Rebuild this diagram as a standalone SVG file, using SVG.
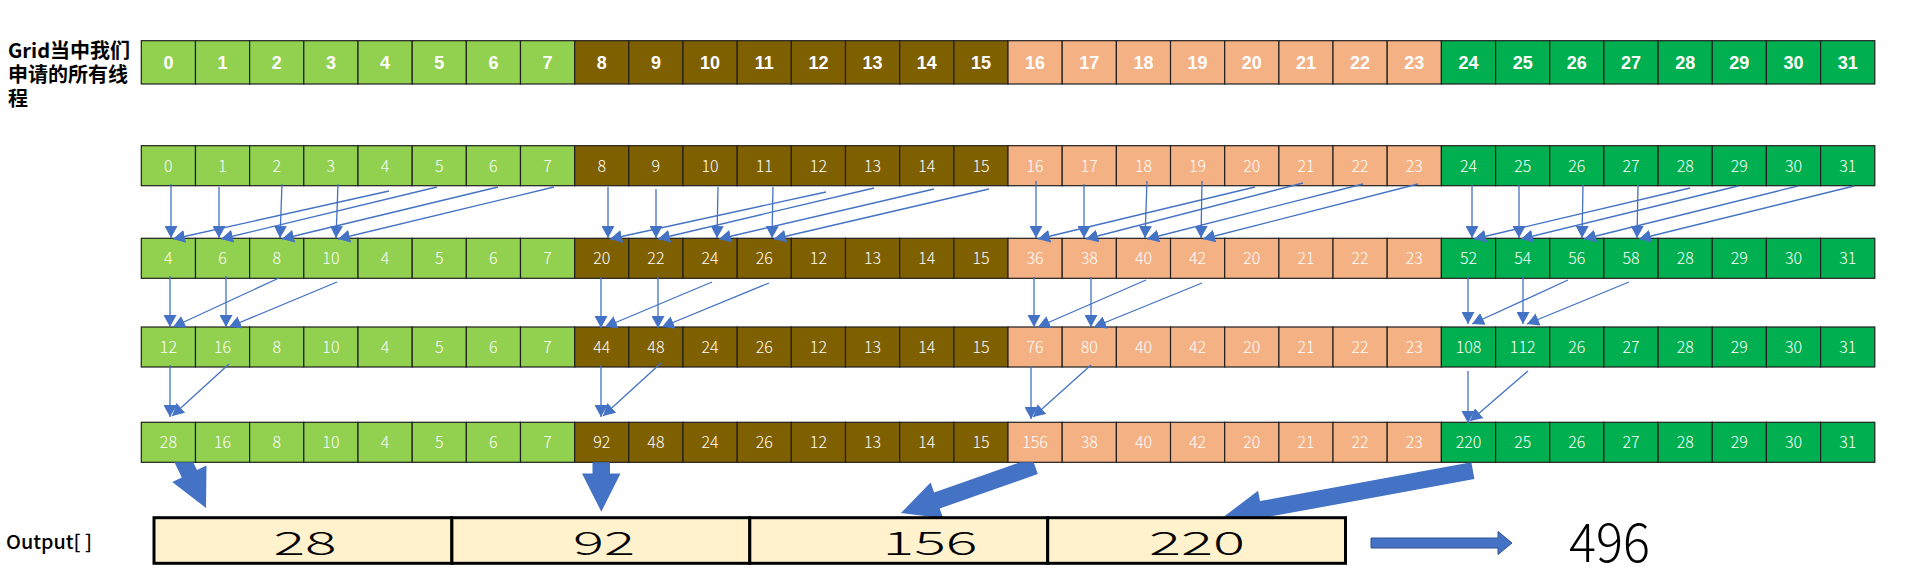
<svg xmlns="http://www.w3.org/2000/svg" width="1906" height="569" viewBox="0 0 1906 569">
<style>
.cell rect{stroke:#1f1f1f;stroke-width:1.2}
.f1{fill:#92D050}.f2{fill:#7F6000}.f3{fill:#F4B183}.f4{fill:#00B050}
.t1{font-family:"Liberation Sans",Arial,sans-serif;font-weight:bold;font-size:18px;fill:#fff;text-anchor:middle}
.t2{font-family:"Noto Sans CJK SC","Liberation Sans",sans-serif;font-weight:300;font-size:16px;fill:#fff;text-anchor:middle}
.lab{font-family:"Noto Sans CJK SC",sans-serif;font-weight:bold;font-size:20px;fill:#000}
.ln{stroke:#4472C4;stroke-width:1.3;fill:none;marker-end:url(#ah)}
.blk{fill:#4472C4}
.oc rect{fill:#FFF2CC;stroke:#000;stroke-width:3}
.on{font-family:"Noto Sans CJK SC","Liberation Sans",sans-serif;font-weight:300;font-size:33px;fill:#000;text-anchor:middle}
</style>
<defs>
<marker id="ah" markerUnits="userSpaceOnUse" markerWidth="13" markerHeight="13" refX="12" refY="6.5" orient="auto" viewBox="0 0 13 13"><path d="M0,0 L12,6.5 L0,13 z" fill="#4472C4"/></marker>
<clipPath id="band"><rect x="0" y="462.3" width="1906" height="55.4"/></clipPath>
</defs>
<g id="label-grid">
<text class="lab" x="8" y="58">Grid当中我们</text>
<text class="lab" x="8" y="82">申请的所有线</text>
<text class="lab" x="8" y="106">程</text>
</g>
<g id="row1" transform="translate(0,40.7)">
<g id="r1c0" class="cell" transform="translate(141.3)"><rect class="f1" width="54.2" height="43.3"/><text class="t1" x="27.1" y="28.6">0</text></g>
<g id="r1c1" class="cell" transform="translate(195.5)"><rect class="f1" width="54.2" height="43.3"/><text class="t1" x="27.1" y="28.6">1</text></g>
<g id="r1c2" class="cell" transform="translate(249.6)"><rect class="f1" width="54.2" height="43.3"/><text class="t1" x="27.1" y="28.6">2</text></g>
<g id="r1c3" class="cell" transform="translate(303.8)"><rect class="f1" width="54.2" height="43.3"/><text class="t1" x="27.1" y="28.6">3</text></g>
<g id="r1c4" class="cell" transform="translate(358)"><rect class="f1" width="54.2" height="43.3"/><text class="t1" x="27.1" y="28.6">4</text></g>
<g id="r1c5" class="cell" transform="translate(412.2)"><rect class="f1" width="54.2" height="43.3"/><text class="t1" x="27.1" y="28.6">5</text></g>
<g id="r1c6" class="cell" transform="translate(466.3)"><rect class="f1" width="54.2" height="43.3"/><text class="t1" x="27.1" y="28.6">6</text></g>
<g id="r1c7" class="cell" transform="translate(520.5)"><rect class="f1" width="54.2" height="43.3"/><text class="t1" x="27.1" y="28.6">7</text></g>
<g id="r1c8" class="cell" transform="translate(574.7)"><rect class="f2" width="54.2" height="43.3"/><text class="t1" x="27.1" y="28.6">8</text></g>
<g id="r1c9" class="cell" transform="translate(628.8)"><rect class="f2" width="54.2" height="43.3"/><text class="t1" x="27.1" y="28.6">9</text></g>
<g id="r1c10" class="cell" transform="translate(683)"><rect class="f2" width="54.2" height="43.3"/><text class="t1" x="27.1" y="28.6">10</text></g>
<g id="r1c11" class="cell" transform="translate(737.2)"><rect class="f2" width="54.2" height="43.3"/><text class="t1" x="27.1" y="28.6">11</text></g>
<g id="r1c12" class="cell" transform="translate(791.3)"><rect class="f2" width="54.2" height="43.3"/><text class="t1" x="27.1" y="28.6">12</text></g>
<g id="r1c13" class="cell" transform="translate(845.5)"><rect class="f2" width="54.2" height="43.3"/><text class="t1" x="27.1" y="28.6">13</text></g>
<g id="r1c14" class="cell" transform="translate(899.7)"><rect class="f2" width="54.2" height="43.3"/><text class="t1" x="27.1" y="28.6">14</text></g>
<g id="r1c15" class="cell" transform="translate(953.9)"><rect class="f2" width="54.2" height="43.3"/><text class="t1" x="27.1" y="28.6">15</text></g>
<g id="r1c16" class="cell" transform="translate(1008)"><rect class="f3" width="54.2" height="43.3"/><text class="t1" x="27.1" y="28.6">16</text></g>
<g id="r1c17" class="cell" transform="translate(1062.2)"><rect class="f3" width="54.2" height="43.3"/><text class="t1" x="27.1" y="28.6">17</text></g>
<g id="r1c18" class="cell" transform="translate(1116.4)"><rect class="f3" width="54.2" height="43.3"/><text class="t1" x="27.1" y="28.6">18</text></g>
<g id="r1c19" class="cell" transform="translate(1170.5)"><rect class="f3" width="54.2" height="43.3"/><text class="t1" x="27.1" y="28.6">19</text></g>
<g id="r1c20" class="cell" transform="translate(1224.7)"><rect class="f3" width="54.2" height="43.3"/><text class="t1" x="27.1" y="28.6">20</text></g>
<g id="r1c21" class="cell" transform="translate(1278.9)"><rect class="f3" width="54.2" height="43.3"/><text class="t1" x="27.1" y="28.6">21</text></g>
<g id="r1c22" class="cell" transform="translate(1333)"><rect class="f3" width="54.2" height="43.3"/><text class="t1" x="27.1" y="28.6">22</text></g>
<g id="r1c23" class="cell" transform="translate(1387.2)"><rect class="f3" width="54.2" height="43.3"/><text class="t1" x="27.1" y="28.6">23</text></g>
<g id="r1c24" class="cell" transform="translate(1441.4)"><rect class="f4" width="54.2" height="43.3"/><text class="t1" x="27.1" y="28.6">24</text></g>
<g id="r1c25" class="cell" transform="translate(1495.6)"><rect class="f4" width="54.2" height="43.3"/><text class="t1" x="27.1" y="28.6">25</text></g>
<g id="r1c26" class="cell" transform="translate(1549.7)"><rect class="f4" width="54.2" height="43.3"/><text class="t1" x="27.1" y="28.6">26</text></g>
<g id="r1c27" class="cell" transform="translate(1603.9)"><rect class="f4" width="54.2" height="43.3"/><text class="t1" x="27.1" y="28.6">27</text></g>
<g id="r1c28" class="cell" transform="translate(1658.1)"><rect class="f4" width="54.2" height="43.3"/><text class="t1" x="27.1" y="28.6">28</text></g>
<g id="r1c29" class="cell" transform="translate(1712.2)"><rect class="f4" width="54.2" height="43.3"/><text class="t1" x="27.1" y="28.6">29</text></g>
<g id="r1c30" class="cell" transform="translate(1766.4)"><rect class="f4" width="54.2" height="43.3"/><text class="t1" x="27.1" y="28.6">30</text></g>
<g id="r1c31" class="cell" transform="translate(1820.6)"><rect class="f4" width="54.2" height="43.3"/><text class="t1" x="27.1" y="28.6">31</text></g>
</g>
<g id="row2" transform="translate(0,145.7)">
<g id="r2c0" class="cell" transform="translate(141.3)"><rect class="f1" width="54.2" height="40"/><text class="t2" x="27.1" y="26">0</text></g>
<g id="r2c1" class="cell" transform="translate(195.5)"><rect class="f1" width="54.2" height="40"/><text class="t2" x="27.1" y="26">1</text></g>
<g id="r2c2" class="cell" transform="translate(249.6)"><rect class="f1" width="54.2" height="40"/><text class="t2" x="27.1" y="26">2</text></g>
<g id="r2c3" class="cell" transform="translate(303.8)"><rect class="f1" width="54.2" height="40"/><text class="t2" x="27.1" y="26">3</text></g>
<g id="r2c4" class="cell" transform="translate(358)"><rect class="f1" width="54.2" height="40"/><text class="t2" x="27.1" y="26">4</text></g>
<g id="r2c5" class="cell" transform="translate(412.2)"><rect class="f1" width="54.2" height="40"/><text class="t2" x="27.1" y="26">5</text></g>
<g id="r2c6" class="cell" transform="translate(466.3)"><rect class="f1" width="54.2" height="40"/><text class="t2" x="27.1" y="26">6</text></g>
<g id="r2c7" class="cell" transform="translate(520.5)"><rect class="f1" width="54.2" height="40"/><text class="t2" x="27.1" y="26">7</text></g>
<g id="r2c8" class="cell" transform="translate(574.7)"><rect class="f2" width="54.2" height="40"/><text class="t2" x="27.1" y="26">8</text></g>
<g id="r2c9" class="cell" transform="translate(628.8)"><rect class="f2" width="54.2" height="40"/><text class="t2" x="27.1" y="26">9</text></g>
<g id="r2c10" class="cell" transform="translate(683)"><rect class="f2" width="54.2" height="40"/><text class="t2" x="27.1" y="26">10</text></g>
<g id="r2c11" class="cell" transform="translate(737.2)"><rect class="f2" width="54.2" height="40"/><text class="t2" x="27.1" y="26">11</text></g>
<g id="r2c12" class="cell" transform="translate(791.3)"><rect class="f2" width="54.2" height="40"/><text class="t2" x="27.1" y="26">12</text></g>
<g id="r2c13" class="cell" transform="translate(845.5)"><rect class="f2" width="54.2" height="40"/><text class="t2" x="27.1" y="26">13</text></g>
<g id="r2c14" class="cell" transform="translate(899.7)"><rect class="f2" width="54.2" height="40"/><text class="t2" x="27.1" y="26">14</text></g>
<g id="r2c15" class="cell" transform="translate(953.9)"><rect class="f2" width="54.2" height="40"/><text class="t2" x="27.1" y="26">15</text></g>
<g id="r2c16" class="cell" transform="translate(1008)"><rect class="f3" width="54.2" height="40"/><text class="t2" x="27.1" y="26">16</text></g>
<g id="r2c17" class="cell" transform="translate(1062.2)"><rect class="f3" width="54.2" height="40"/><text class="t2" x="27.1" y="26">17</text></g>
<g id="r2c18" class="cell" transform="translate(1116.4)"><rect class="f3" width="54.2" height="40"/><text class="t2" x="27.1" y="26">18</text></g>
<g id="r2c19" class="cell" transform="translate(1170.5)"><rect class="f3" width="54.2" height="40"/><text class="t2" x="27.1" y="26">19</text></g>
<g id="r2c20" class="cell" transform="translate(1224.7)"><rect class="f3" width="54.2" height="40"/><text class="t2" x="27.1" y="26">20</text></g>
<g id="r2c21" class="cell" transform="translate(1278.9)"><rect class="f3" width="54.2" height="40"/><text class="t2" x="27.1" y="26">21</text></g>
<g id="r2c22" class="cell" transform="translate(1333)"><rect class="f3" width="54.2" height="40"/><text class="t2" x="27.1" y="26">22</text></g>
<g id="r2c23" class="cell" transform="translate(1387.2)"><rect class="f3" width="54.2" height="40"/><text class="t2" x="27.1" y="26">23</text></g>
<g id="r2c24" class="cell" transform="translate(1441.4)"><rect class="f4" width="54.2" height="40"/><text class="t2" x="27.1" y="26">24</text></g>
<g id="r2c25" class="cell" transform="translate(1495.6)"><rect class="f4" width="54.2" height="40"/><text class="t2" x="27.1" y="26">25</text></g>
<g id="r2c26" class="cell" transform="translate(1549.7)"><rect class="f4" width="54.2" height="40"/><text class="t2" x="27.1" y="26">26</text></g>
<g id="r2c27" class="cell" transform="translate(1603.9)"><rect class="f4" width="54.2" height="40"/><text class="t2" x="27.1" y="26">27</text></g>
<g id="r2c28" class="cell" transform="translate(1658.1)"><rect class="f4" width="54.2" height="40"/><text class="t2" x="27.1" y="26">28</text></g>
<g id="r2c29" class="cell" transform="translate(1712.2)"><rect class="f4" width="54.2" height="40"/><text class="t2" x="27.1" y="26">29</text></g>
<g id="r2c30" class="cell" transform="translate(1766.4)"><rect class="f4" width="54.2" height="40"/><text class="t2" x="27.1" y="26">30</text></g>
<g id="r2c31" class="cell" transform="translate(1820.6)"><rect class="f4" width="54.2" height="40"/><text class="t2" x="27.1" y="26">31</text></g>
</g>
<g id="row3" transform="translate(0,238.3)">
<g id="r3c0" class="cell" transform="translate(141.3)"><rect class="f1" width="54.2" height="40"/><text class="t2" x="27.1" y="26">4</text></g>
<g id="r3c1" class="cell" transform="translate(195.5)"><rect class="f1" width="54.2" height="40"/><text class="t2" x="27.1" y="26">6</text></g>
<g id="r3c2" class="cell" transform="translate(249.6)"><rect class="f1" width="54.2" height="40"/><text class="t2" x="27.1" y="26">8</text></g>
<g id="r3c3" class="cell" transform="translate(303.8)"><rect class="f1" width="54.2" height="40"/><text class="t2" x="27.1" y="26">10</text></g>
<g id="r3c4" class="cell" transform="translate(358)"><rect class="f1" width="54.2" height="40"/><text class="t2" x="27.1" y="26">4</text></g>
<g id="r3c5" class="cell" transform="translate(412.2)"><rect class="f1" width="54.2" height="40"/><text class="t2" x="27.1" y="26">5</text></g>
<g id="r3c6" class="cell" transform="translate(466.3)"><rect class="f1" width="54.2" height="40"/><text class="t2" x="27.1" y="26">6</text></g>
<g id="r3c7" class="cell" transform="translate(520.5)"><rect class="f1" width="54.2" height="40"/><text class="t2" x="27.1" y="26">7</text></g>
<g id="r3c8" class="cell" transform="translate(574.7)"><rect class="f2" width="54.2" height="40"/><text class="t2" x="27.1" y="26">20</text></g>
<g id="r3c9" class="cell" transform="translate(628.8)"><rect class="f2" width="54.2" height="40"/><text class="t2" x="27.1" y="26">22</text></g>
<g id="r3c10" class="cell" transform="translate(683)"><rect class="f2" width="54.2" height="40"/><text class="t2" x="27.1" y="26">24</text></g>
<g id="r3c11" class="cell" transform="translate(737.2)"><rect class="f2" width="54.2" height="40"/><text class="t2" x="27.1" y="26">26</text></g>
<g id="r3c12" class="cell" transform="translate(791.3)"><rect class="f2" width="54.2" height="40"/><text class="t2" x="27.1" y="26">12</text></g>
<g id="r3c13" class="cell" transform="translate(845.5)"><rect class="f2" width="54.2" height="40"/><text class="t2" x="27.1" y="26">13</text></g>
<g id="r3c14" class="cell" transform="translate(899.7)"><rect class="f2" width="54.2" height="40"/><text class="t2" x="27.1" y="26">14</text></g>
<g id="r3c15" class="cell" transform="translate(953.9)"><rect class="f2" width="54.2" height="40"/><text class="t2" x="27.1" y="26">15</text></g>
<g id="r3c16" class="cell" transform="translate(1008)"><rect class="f3" width="54.2" height="40"/><text class="t2" x="27.1" y="26">36</text></g>
<g id="r3c17" class="cell" transform="translate(1062.2)"><rect class="f3" width="54.2" height="40"/><text class="t2" x="27.1" y="26">38</text></g>
<g id="r3c18" class="cell" transform="translate(1116.4)"><rect class="f3" width="54.2" height="40"/><text class="t2" x="27.1" y="26">40</text></g>
<g id="r3c19" class="cell" transform="translate(1170.5)"><rect class="f3" width="54.2" height="40"/><text class="t2" x="27.1" y="26">42</text></g>
<g id="r3c20" class="cell" transform="translate(1224.7)"><rect class="f3" width="54.2" height="40"/><text class="t2" x="27.1" y="26">20</text></g>
<g id="r3c21" class="cell" transform="translate(1278.9)"><rect class="f3" width="54.2" height="40"/><text class="t2" x="27.1" y="26">21</text></g>
<g id="r3c22" class="cell" transform="translate(1333)"><rect class="f3" width="54.2" height="40"/><text class="t2" x="27.1" y="26">22</text></g>
<g id="r3c23" class="cell" transform="translate(1387.2)"><rect class="f3" width="54.2" height="40"/><text class="t2" x="27.1" y="26">23</text></g>
<g id="r3c24" class="cell" transform="translate(1441.4)"><rect class="f4" width="54.2" height="40"/><text class="t2" x="27.1" y="26">52</text></g>
<g id="r3c25" class="cell" transform="translate(1495.6)"><rect class="f4" width="54.2" height="40"/><text class="t2" x="27.1" y="26">54</text></g>
<g id="r3c26" class="cell" transform="translate(1549.7)"><rect class="f4" width="54.2" height="40"/><text class="t2" x="27.1" y="26">56</text></g>
<g id="r3c27" class="cell" transform="translate(1603.9)"><rect class="f4" width="54.2" height="40"/><text class="t2" x="27.1" y="26">58</text></g>
<g id="r3c28" class="cell" transform="translate(1658.1)"><rect class="f4" width="54.2" height="40"/><text class="t2" x="27.1" y="26">28</text></g>
<g id="r3c29" class="cell" transform="translate(1712.2)"><rect class="f4" width="54.2" height="40"/><text class="t2" x="27.1" y="26">29</text></g>
<g id="r3c30" class="cell" transform="translate(1766.4)"><rect class="f4" width="54.2" height="40"/><text class="t2" x="27.1" y="26">30</text></g>
<g id="r3c31" class="cell" transform="translate(1820.6)"><rect class="f4" width="54.2" height="40"/><text class="t2" x="27.1" y="26">31</text></g>
</g>
<g id="row4" transform="translate(0,327)">
<g id="r4c0" class="cell" transform="translate(141.3)"><rect class="f1" width="54.2" height="40"/><text class="t2" x="27.1" y="26">12</text></g>
<g id="r4c1" class="cell" transform="translate(195.5)"><rect class="f1" width="54.2" height="40"/><text class="t2" x="27.1" y="26">16</text></g>
<g id="r4c2" class="cell" transform="translate(249.6)"><rect class="f1" width="54.2" height="40"/><text class="t2" x="27.1" y="26">8</text></g>
<g id="r4c3" class="cell" transform="translate(303.8)"><rect class="f1" width="54.2" height="40"/><text class="t2" x="27.1" y="26">10</text></g>
<g id="r4c4" class="cell" transform="translate(358)"><rect class="f1" width="54.2" height="40"/><text class="t2" x="27.1" y="26">4</text></g>
<g id="r4c5" class="cell" transform="translate(412.2)"><rect class="f1" width="54.2" height="40"/><text class="t2" x="27.1" y="26">5</text></g>
<g id="r4c6" class="cell" transform="translate(466.3)"><rect class="f1" width="54.2" height="40"/><text class="t2" x="27.1" y="26">6</text></g>
<g id="r4c7" class="cell" transform="translate(520.5)"><rect class="f1" width="54.2" height="40"/><text class="t2" x="27.1" y="26">7</text></g>
<g id="r4c8" class="cell" transform="translate(574.7)"><rect class="f2" width="54.2" height="40"/><text class="t2" x="27.1" y="26">44</text></g>
<g id="r4c9" class="cell" transform="translate(628.8)"><rect class="f2" width="54.2" height="40"/><text class="t2" x="27.1" y="26">48</text></g>
<g id="r4c10" class="cell" transform="translate(683)"><rect class="f2" width="54.2" height="40"/><text class="t2" x="27.1" y="26">24</text></g>
<g id="r4c11" class="cell" transform="translate(737.2)"><rect class="f2" width="54.2" height="40"/><text class="t2" x="27.1" y="26">26</text></g>
<g id="r4c12" class="cell" transform="translate(791.3)"><rect class="f2" width="54.2" height="40"/><text class="t2" x="27.1" y="26">12</text></g>
<g id="r4c13" class="cell" transform="translate(845.5)"><rect class="f2" width="54.2" height="40"/><text class="t2" x="27.1" y="26">13</text></g>
<g id="r4c14" class="cell" transform="translate(899.7)"><rect class="f2" width="54.2" height="40"/><text class="t2" x="27.1" y="26">14</text></g>
<g id="r4c15" class="cell" transform="translate(953.9)"><rect class="f2" width="54.2" height="40"/><text class="t2" x="27.1" y="26">15</text></g>
<g id="r4c16" class="cell" transform="translate(1008)"><rect class="f3" width="54.2" height="40"/><text class="t2" x="27.1" y="26">76</text></g>
<g id="r4c17" class="cell" transform="translate(1062.2)"><rect class="f3" width="54.2" height="40"/><text class="t2" x="27.1" y="26">80</text></g>
<g id="r4c18" class="cell" transform="translate(1116.4)"><rect class="f3" width="54.2" height="40"/><text class="t2" x="27.1" y="26">40</text></g>
<g id="r4c19" class="cell" transform="translate(1170.5)"><rect class="f3" width="54.2" height="40"/><text class="t2" x="27.1" y="26">42</text></g>
<g id="r4c20" class="cell" transform="translate(1224.7)"><rect class="f3" width="54.2" height="40"/><text class="t2" x="27.1" y="26">20</text></g>
<g id="r4c21" class="cell" transform="translate(1278.9)"><rect class="f3" width="54.2" height="40"/><text class="t2" x="27.1" y="26">21</text></g>
<g id="r4c22" class="cell" transform="translate(1333)"><rect class="f3" width="54.2" height="40"/><text class="t2" x="27.1" y="26">22</text></g>
<g id="r4c23" class="cell" transform="translate(1387.2)"><rect class="f3" width="54.2" height="40"/><text class="t2" x="27.1" y="26">23</text></g>
<g id="r4c24" class="cell" transform="translate(1441.4)"><rect class="f4" width="54.2" height="40"/><text class="t2" x="27.1" y="26">108</text></g>
<g id="r4c25" class="cell" transform="translate(1495.6)"><rect class="f4" width="54.2" height="40"/><text class="t2" x="27.1" y="26">112</text></g>
<g id="r4c26" class="cell" transform="translate(1549.7)"><rect class="f4" width="54.2" height="40"/><text class="t2" x="27.1" y="26">26</text></g>
<g id="r4c27" class="cell" transform="translate(1603.9)"><rect class="f4" width="54.2" height="40"/><text class="t2" x="27.1" y="26">27</text></g>
<g id="r4c28" class="cell" transform="translate(1658.1)"><rect class="f4" width="54.2" height="40"/><text class="t2" x="27.1" y="26">28</text></g>
<g id="r4c29" class="cell" transform="translate(1712.2)"><rect class="f4" width="54.2" height="40"/><text class="t2" x="27.1" y="26">29</text></g>
<g id="r4c30" class="cell" transform="translate(1766.4)"><rect class="f4" width="54.2" height="40"/><text class="t2" x="27.1" y="26">30</text></g>
<g id="r4c31" class="cell" transform="translate(1820.6)"><rect class="f4" width="54.2" height="40"/><text class="t2" x="27.1" y="26">31</text></g>
</g>
<g id="row5" transform="translate(0,422.3)">
<g id="r5c0" class="cell" transform="translate(141.3)"><rect class="f1" width="54.2" height="40"/><text class="t2" x="27.1" y="26">28</text></g>
<g id="r5c1" class="cell" transform="translate(195.5)"><rect class="f1" width="54.2" height="40"/><text class="t2" x="27.1" y="26">16</text></g>
<g id="r5c2" class="cell" transform="translate(249.6)"><rect class="f1" width="54.2" height="40"/><text class="t2" x="27.1" y="26">8</text></g>
<g id="r5c3" class="cell" transform="translate(303.8)"><rect class="f1" width="54.2" height="40"/><text class="t2" x="27.1" y="26">10</text></g>
<g id="r5c4" class="cell" transform="translate(358)"><rect class="f1" width="54.2" height="40"/><text class="t2" x="27.1" y="26">4</text></g>
<g id="r5c5" class="cell" transform="translate(412.2)"><rect class="f1" width="54.2" height="40"/><text class="t2" x="27.1" y="26">5</text></g>
<g id="r5c6" class="cell" transform="translate(466.3)"><rect class="f1" width="54.2" height="40"/><text class="t2" x="27.1" y="26">6</text></g>
<g id="r5c7" class="cell" transform="translate(520.5)"><rect class="f1" width="54.2" height="40"/><text class="t2" x="27.1" y="26">7</text></g>
<g id="r5c8" class="cell" transform="translate(574.7)"><rect class="f2" width="54.2" height="40"/><text class="t2" x="27.1" y="26">92</text></g>
<g id="r5c9" class="cell" transform="translate(628.8)"><rect class="f2" width="54.2" height="40"/><text class="t2" x="27.1" y="26">48</text></g>
<g id="r5c10" class="cell" transform="translate(683)"><rect class="f2" width="54.2" height="40"/><text class="t2" x="27.1" y="26">24</text></g>
<g id="r5c11" class="cell" transform="translate(737.2)"><rect class="f2" width="54.2" height="40"/><text class="t2" x="27.1" y="26">26</text></g>
<g id="r5c12" class="cell" transform="translate(791.3)"><rect class="f2" width="54.2" height="40"/><text class="t2" x="27.1" y="26">12</text></g>
<g id="r5c13" class="cell" transform="translate(845.5)"><rect class="f2" width="54.2" height="40"/><text class="t2" x="27.1" y="26">13</text></g>
<g id="r5c14" class="cell" transform="translate(899.7)"><rect class="f2" width="54.2" height="40"/><text class="t2" x="27.1" y="26">14</text></g>
<g id="r5c15" class="cell" transform="translate(953.9)"><rect class="f2" width="54.2" height="40"/><text class="t2" x="27.1" y="26">15</text></g>
<g id="r5c16" class="cell" transform="translate(1008)"><rect class="f3" width="54.2" height="40"/><text class="t2" x="27.1" y="26">156</text></g>
<g id="r5c17" class="cell" transform="translate(1062.2)"><rect class="f3" width="54.2" height="40"/><text class="t2" x="27.1" y="26">38</text></g>
<g id="r5c18" class="cell" transform="translate(1116.4)"><rect class="f3" width="54.2" height="40"/><text class="t2" x="27.1" y="26">40</text></g>
<g id="r5c19" class="cell" transform="translate(1170.5)"><rect class="f3" width="54.2" height="40"/><text class="t2" x="27.1" y="26">42</text></g>
<g id="r5c20" class="cell" transform="translate(1224.7)"><rect class="f3" width="54.2" height="40"/><text class="t2" x="27.1" y="26">20</text></g>
<g id="r5c21" class="cell" transform="translate(1278.9)"><rect class="f3" width="54.2" height="40"/><text class="t2" x="27.1" y="26">21</text></g>
<g id="r5c22" class="cell" transform="translate(1333)"><rect class="f3" width="54.2" height="40"/><text class="t2" x="27.1" y="26">22</text></g>
<g id="r5c23" class="cell" transform="translate(1387.2)"><rect class="f3" width="54.2" height="40"/><text class="t2" x="27.1" y="26">23</text></g>
<g id="r5c24" class="cell" transform="translate(1441.4)"><rect class="f4" width="54.2" height="40"/><text class="t2" x="27.1" y="26">220</text></g>
<g id="r5c25" class="cell" transform="translate(1495.6)"><rect class="f4" width="54.2" height="40"/><text class="t2" x="27.1" y="26">25</text></g>
<g id="r5c26" class="cell" transform="translate(1549.7)"><rect class="f4" width="54.2" height="40"/><text class="t2" x="27.1" y="26">26</text></g>
<g id="r5c27" class="cell" transform="translate(1603.9)"><rect class="f4" width="54.2" height="40"/><text class="t2" x="27.1" y="26">27</text></g>
<g id="r5c28" class="cell" transform="translate(1658.1)"><rect class="f4" width="54.2" height="40"/><text class="t2" x="27.1" y="26">28</text></g>
<g id="r5c29" class="cell" transform="translate(1712.2)"><rect class="f4" width="54.2" height="40"/><text class="t2" x="27.1" y="26">29</text></g>
<g id="r5c30" class="cell" transform="translate(1766.4)"><rect class="f4" width="54.2" height="40"/><text class="t2" x="27.1" y="26">30</text></g>
<g id="r5c31" class="cell" transform="translate(1820.6)"><rect class="f4" width="54.2" height="40"/><text class="t2" x="27.1" y="26">31</text></g>
</g>
<g id="connectors">
<g id="step1">
<line class="ln" x1="171" y1="184" x2="171" y2="238"/>
<line class="ln" x1="219" y1="187" x2="219" y2="238"/>
<line class="ln" x1="282" y1="184" x2="280" y2="238"/>
<line class="ln" x1="338" y1="184" x2="336" y2="238"/>
<line class="ln" x1="389" y1="191" x2="173" y2="239"/>
<line class="ln" x1="437" y1="187" x2="221" y2="239"/>
<line class="ln" x1="498" y1="187" x2="282" y2="239"/>
<line class="ln" x1="554" y1="187" x2="338" y2="239"/>
<line class="ln" x1="608" y1="187" x2="608" y2="238"/>
<line class="ln" x1="656" y1="189" x2="656" y2="238"/>
<line class="ln" x1="718" y1="187" x2="717" y2="238"/>
<line class="ln" x1="773" y1="187" x2="772" y2="238"/>
<line class="ln" x1="826" y1="192" x2="610" y2="239"/>
<line class="ln" x1="874" y1="188" x2="658" y2="239"/>
<line class="ln" x1="934" y1="189" x2="719" y2="239"/>
<line class="ln" x1="989" y1="189" x2="774" y2="239"/>
<line class="ln" x1="1036" y1="181" x2="1036" y2="238"/>
<line class="ln" x1="1084" y1="184" x2="1084" y2="238"/>
<line class="ln" x1="1147" y1="181" x2="1145" y2="238"/>
<line class="ln" x1="1202" y1="181" x2="1201" y2="238"/>
<line class="ln" x1="1255" y1="187" x2="1038" y2="239"/>
<line class="ln" x1="1303" y1="183" x2="1086" y2="239"/>
<line class="ln" x1="1363" y1="184" x2="1147" y2="239"/>
<line class="ln" x1="1418" y1="184" x2="1203" y2="239"/>
<line class="ln" x1="1472" y1="185" x2="1472" y2="238"/>
<line class="ln" x1="1519" y1="185" x2="1519" y2="238"/>
<line class="ln" x1="1583" y1="185" x2="1582" y2="238"/>
<line class="ln" x1="1638" y1="185" x2="1637" y2="238"/>
<line class="ln" x1="1690" y1="188" x2="1474" y2="239"/>
<line class="ln" x1="1738" y1="186" x2="1521" y2="239"/>
<line class="ln" x1="1798" y1="186" x2="1584" y2="239"/>
<line class="ln" x1="1854" y1="186" x2="1639" y2="239"/>
</g>
<g id="step2">
<line class="ln" x1="170" y1="276" x2="170" y2="327"/>
<line class="ln" x1="226" y1="276" x2="226" y2="327"/>
<line class="ln" x1="279" y1="278" x2="173" y2="327"/>
<line class="ln" x1="337" y1="282" x2="229" y2="327"/>
<line class="ln" x1="601" y1="277" x2="601" y2="328"/>
<line class="ln" x1="658" y1="277" x2="658" y2="328"/>
<line class="ln" x1="712" y1="282" x2="605" y2="327"/>
<line class="ln" x1="769" y1="283" x2="662" y2="327"/>
<line class="ln" x1="1034" y1="277" x2="1034" y2="327"/>
<line class="ln" x1="1091" y1="277" x2="1091" y2="327"/>
<line class="ln" x1="1146" y1="280" x2="1038" y2="327"/>
<line class="ln" x1="1202" y1="283" x2="1094" y2="327"/>
<line class="ln" x1="1468" y1="276" x2="1468" y2="324"/>
<line class="ln" x1="1523" y1="276" x2="1523" y2="324"/>
<line class="ln" x1="1568" y1="280" x2="1472" y2="324"/>
<line class="ln" x1="1629" y1="282" x2="1527" y2="324"/>
</g>
<g id="step3">
<line class="ln" x1="170" y1="365" x2="170" y2="417"/>
<line class="ln" x1="229" y1="364" x2="172" y2="416"/>
<line class="ln" x1="601" y1="365" x2="601" y2="417"/>
<line class="ln" x1="661" y1="363" x2="603" y2="416"/>
<line class="ln" x1="1031" y1="366" x2="1031" y2="419"/>
<line class="ln" x1="1091" y1="365" x2="1033" y2="417"/>
<line class="ln" x1="1468" y1="371" x2="1468" y2="423"/>
<line class="ln" x1="1528" y1="371" x2="1470" y2="421"/>
</g>
<g id="to-output" clip-path="url(#band)">
<polygon class="blk" points="172.2,457.7 181.8,477.5 172.3,482.1 206,508 206.5,465.5 197,470.1 187.4,450.3"/>
<polygon class="blk" points="592.5,455 592.5,473.5 582,473.5 601.3,511.7 620.5,473.5 610,473.5 610,455"/>
<polygon class="blk" points="1032.2,458 934.1,492.4 930.6,482.5 901,513 943.2,518.3 939.7,508.4 1037.8,474"/>
<polygon class="blk" points="1471.4,462.3 1260,501.1 1258.1,490.8 1224.1,516.4 1264.9,528.2 1263,517.9 1474.4,479.1"/>
</g>
<polygon id="sum-arrow" points="1371,538 1498,538 1498,531.5 1512,543 1498,554.5 1498,548 1371,548" fill="#4472C4" stroke="#2F528F" stroke-width="1"/>
</g>
<g id="output">
<text x="6" y="549" font-family="Noto Sans CJK SC, Liberation Sans, sans-serif" font-weight="500" font-size="19" textLength="86" lengthAdjust="spacingAndGlyphs">Output[ ]</text>
<g id="out0" class="oc"><rect x="154" y="517.7" width="297.9" height="45.6"/><text class="on" x="305" y="555" textLength="63" lengthAdjust="spacingAndGlyphs">28</text></g>
<g id="out1" class="oc"><rect x="451.9" y="517.7" width="297.9" height="45.6"/><text class="on" x="604" y="555" textLength="62" lengthAdjust="spacingAndGlyphs">92</text></g>
<g id="out2" class="oc"><rect x="749.8" y="517.7" width="297.9" height="45.6"/><text class="on" x="930" y="555" textLength="95" lengthAdjust="spacingAndGlyphs">156</text></g>
<g id="out3" class="oc"><rect x="1047.7" y="517.7" width="297.8" height="45.6"/><text class="on" x="1197" y="555" textLength="96" lengthAdjust="spacingAndGlyphs">220</text></g>
</g>
<g id="total">
<text x="1609.5" y="561.7" font-family="Noto Sans CJK SC, Liberation Sans, sans-serif" font-weight="300" font-size="54" text-anchor="middle" textLength="81" lengthAdjust="spacingAndGlyphs">496</text>
</g>
</svg>
